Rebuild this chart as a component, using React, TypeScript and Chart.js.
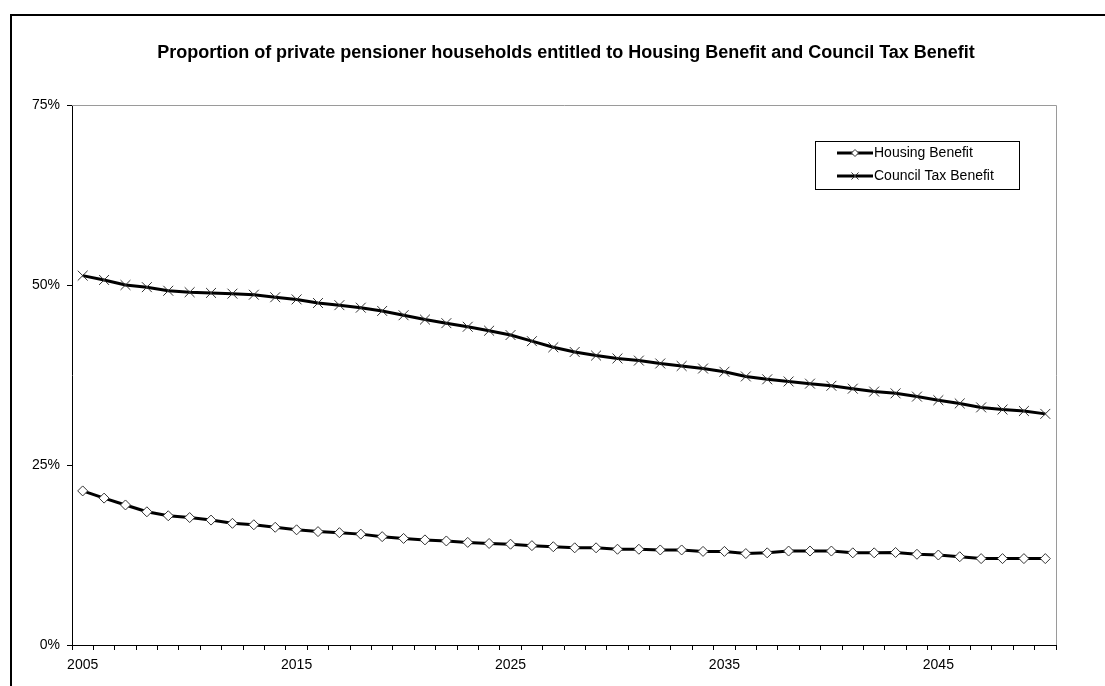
import React, { useEffect, useRef } from "react";
import { Chart, registerables } from "chart.js";

Chart.register(...registerables);

const years: string[] = [
  "2005","2006","2007","2008","2009","2010","2011","2012","2013","2014",
  "2015","2016","2017","2018","2019","2020","2021","2022","2023","2024",
  "2025","2026","2027","2028","2029","2030","2031","2032","2033","2034",
  "2035","2036","2037","2038","2039","2040","2041","2042","2043","2044",
  "2045","2046","2047","2048","2049","2050",
];

const housingBenefit: number[] = [
  21.4, 20.4, 19.45, 18.5, 17.95, 17.7, 17.35, 16.9, 16.7, 16.35,
  16.0, 15.75, 15.6, 15.4, 15.05, 14.8, 14.6, 14.45, 14.25, 14.1,
  14.0, 13.8, 13.65, 13.5, 13.5, 13.3, 13.3, 13.2, 13.2, 13.0,
  13.0, 12.7, 12.8, 13.05, 13.05, 13.05, 12.8, 12.8, 12.85, 12.6,
  12.5, 12.26, 12.0, 12.0, 12.0, 12.0,
];

const councilTaxBenefit: number[] = [
  51.3, 50.7, 50.0, 49.7, 49.2, 49.0, 48.9, 48.8, 48.65, 48.3,
  48.0, 47.5, 47.2, 46.85, 46.4, 45.8, 45.2, 44.7, 44.2, 43.65,
  43.05, 42.2, 41.35, 40.7, 40.2, 39.8, 39.5, 39.1, 38.75, 38.4,
  37.95, 37.3, 36.9, 36.6, 36.3, 36.0, 35.6, 35.2, 34.95, 34.5,
  34.0, 33.55, 33.0, 32.7, 32.5, 32.1,
];

const yTicks: number[] = [0, 25, 50, 75];
const labelEvery = 10;
const titleText =
  "Proportion of private pensioner households entitled to Housing Benefit and Council Tax Benefit";

const FONT = "'Liberation Sans', Arial, sans-serif";

function drawDiamond(ctx: CanvasRenderingContext2D, x: number, y: number, r: number) {
  ctx.beginPath();
  ctx.moveTo(x, y - r);
  ctx.lineTo(x + r, y);
  ctx.lineTo(x, y + r);
  ctx.lineTo(x - r, y);
  ctx.closePath();
  ctx.fillStyle = "#fff";
  ctx.fill();
  ctx.lineWidth = 1;
  ctx.strokeStyle = "#333";
  ctx.stroke();
}

function drawCross(ctx: CanvasRenderingContext2D, x: number, y: number, r: number) {
  const d = r * Math.SQRT1_2;
  ctx.beginPath();
  ctx.moveTo(x - d, y - d);
  ctx.lineTo(x + d, y + d);
  ctx.moveTo(x - d, y + d);
  ctx.lineTo(x + d, y - d);
  ctx.lineWidth = 1;
  ctx.strokeStyle = "#333";
  ctx.stroke();
}

const plotBorderPlugin = {
  id: "plotBorder",
  beforeDatasetsDraw(chart: any) {
    const { ctx, chartArea } = chart;
    ctx.save();
    ctx.strokeStyle = "#9a9a9a";
    ctx.lineWidth = 1;
    ctx.beginPath();
    ctx.moveTo(chartArea.left, Math.round(chartArea.top) + 0.5);
    ctx.lineTo(Math.round(chartArea.right) + 0.5, Math.round(chartArea.top) + 0.5);
    ctx.lineTo(Math.round(chartArea.right) + 0.5, chartArea.bottom);
    ctx.stroke();
    ctx.restore();
  },
};

const legendPlugin = {
  id: "boxLegend",
  afterDraw(chart: any) {
    const { ctx } = chart;
    const bx = 803.5, by = 125.5, bw = 204, bh = 48;
    ctx.save();
    ctx.fillStyle = "#fff";
    ctx.fillRect(bx, by, bw, bh);
    ctx.strokeStyle = "#000";
    ctx.lineWidth = 1;
    ctx.strokeRect(bx, by, bw, bh);
    const rows = [137, 160];
    chart.data.datasets.forEach((ds: any, i: number) => {
      const y = rows[i];
      ctx.beginPath();
      ctx.moveTo(825, y);
      ctx.lineTo(861, y);
      ctx.strokeStyle = "#000";
      ctx.lineWidth = 3;
      ctx.stroke();
      if (ds.pointStyle === "rectRot") drawDiamond(ctx, 843, y, 3.5);
      else drawCross(ctx, 843, y, 5);
      ctx.fillStyle = "#000";
      ctx.font = `14px ${FONT}`;
      ctx.textBaseline = "middle";
      ctx.textAlign = "left";
      ctx.fillText(ds.label, 862, y + 0.5);
    });
    ctx.restore();
  },
};

export default function App() {
  const ref = useRef<HTMLCanvasElement | null>(null);

  useEffect(() => {
    if (!ref.current) return;
    const chart = new Chart(ref.current, {
      type: "line",
      data: {
        labels: years,
        datasets: [
          {
            label: "Housing Benefit",
            data: housingBenefit,
            borderColor: "#000",
            borderWidth: 3,
            tension: 0,
            pointStyle: "rectRot",
            pointRadius: 5,
            pointBackgroundColor: "#fff",
            pointBorderColor: "#333",
            pointBorderWidth: 1,
          },
          {
            label: "Council Tax Benefit",
            data: councilTaxBenefit,
            borderColor: "#000",
            borderWidth: 3,
            tension: 0,
            pointStyle: "crossRot",
            pointRadius: 7,
            pointBackgroundColor: "#fff",
            pointBorderColor: "#333",
            pointBorderWidth: 1,
          },
        ],
      },
      options: {
        responsive: false,
        animation: false,
        devicePixelRatio: 1,
        layout: { padding: 0 },
        plugins: {
          legend: { display: false },
          tooltip: { enabled: false },
          title: {
            display: true,
            text: titleText,
            color: "#000",
            font: { family: FONT, size: 18, weight: "bold", lineHeight: 1.2 },
            padding: { top: 26, bottom: 41.4 },
          },
        },
        scales: {
          x: {
            type: "category",
            offset: true,
            grid: {
              display: true,
              offset: true,
              drawOnChartArea: false,
              drawTicks: true,
              tickLength: 5,
              color: "#000",
            },
            border: { display: true, color: "#000", width: 1 },
            ticks: {
              autoSkip: false,
              maxRotation: 0,
              minRotation: 0,
              padding: 7,
              color: "#000",
              font: { family: FONT, size: 14 },
              callback: (_v: any, i: number) => (i % labelEvery === 0 ? years[i] : ""),
            },
            afterFit: (s: any) => {
              s.height = 71;
            },
          },
          y: {
            min: yTicks[0],
            max: yTicks[yTicks.length - 1],
            afterBuildTicks: (s: any) => {
              s.ticks = yTicks.map((v) => ({ value: v }));
            },
            grid: {
              display: true,
              drawOnChartArea: false,
              drawTicks: true,
              tickLength: 5,
              color: "#000",
            },
            border: { display: true, color: "#000", width: 1 },
            ticks: {
              padding: 7,
              color: "#000",
              font: { family: FONT, size: 14 },
              callback: (v: any) => `${v}%`,
            },
            afterFit: (s: any) => {
              s.width = 60;
            },
          },
          yRight: {
            position: "right",
            display: true,
            grid: { display: false },
            border: { display: false },
            ticks: { display: false },
            afterFit: (s: any) => {
              s.width = 64;
            },
          },
        },
      },
      plugins: [plotBorderPlugin, legendPlugin],
    } as any);
    return () => chart.destroy();
  }, []);

  return (
    <div
      style={{
        position: "fixed",
        left: 0,
        top: 0,
        width: 1105,
        height: 686,
        overflow: "hidden",
        background: "#fff",
      }}
    >
      <div
        style={{
          position: "absolute",
          left: 10,
          top: 14,
          width: 1160,
          height: 720,
          border: "2px solid #000",
          boxSizing: "border-box",
        }}
      >
        <canvas
          ref={ref}
          width={1108}
          height={700}
          style={{ position: "absolute", left: 0, top: 0, width: 1108, height: 700 }}
        />
      </div>
    </div>
  );
}
